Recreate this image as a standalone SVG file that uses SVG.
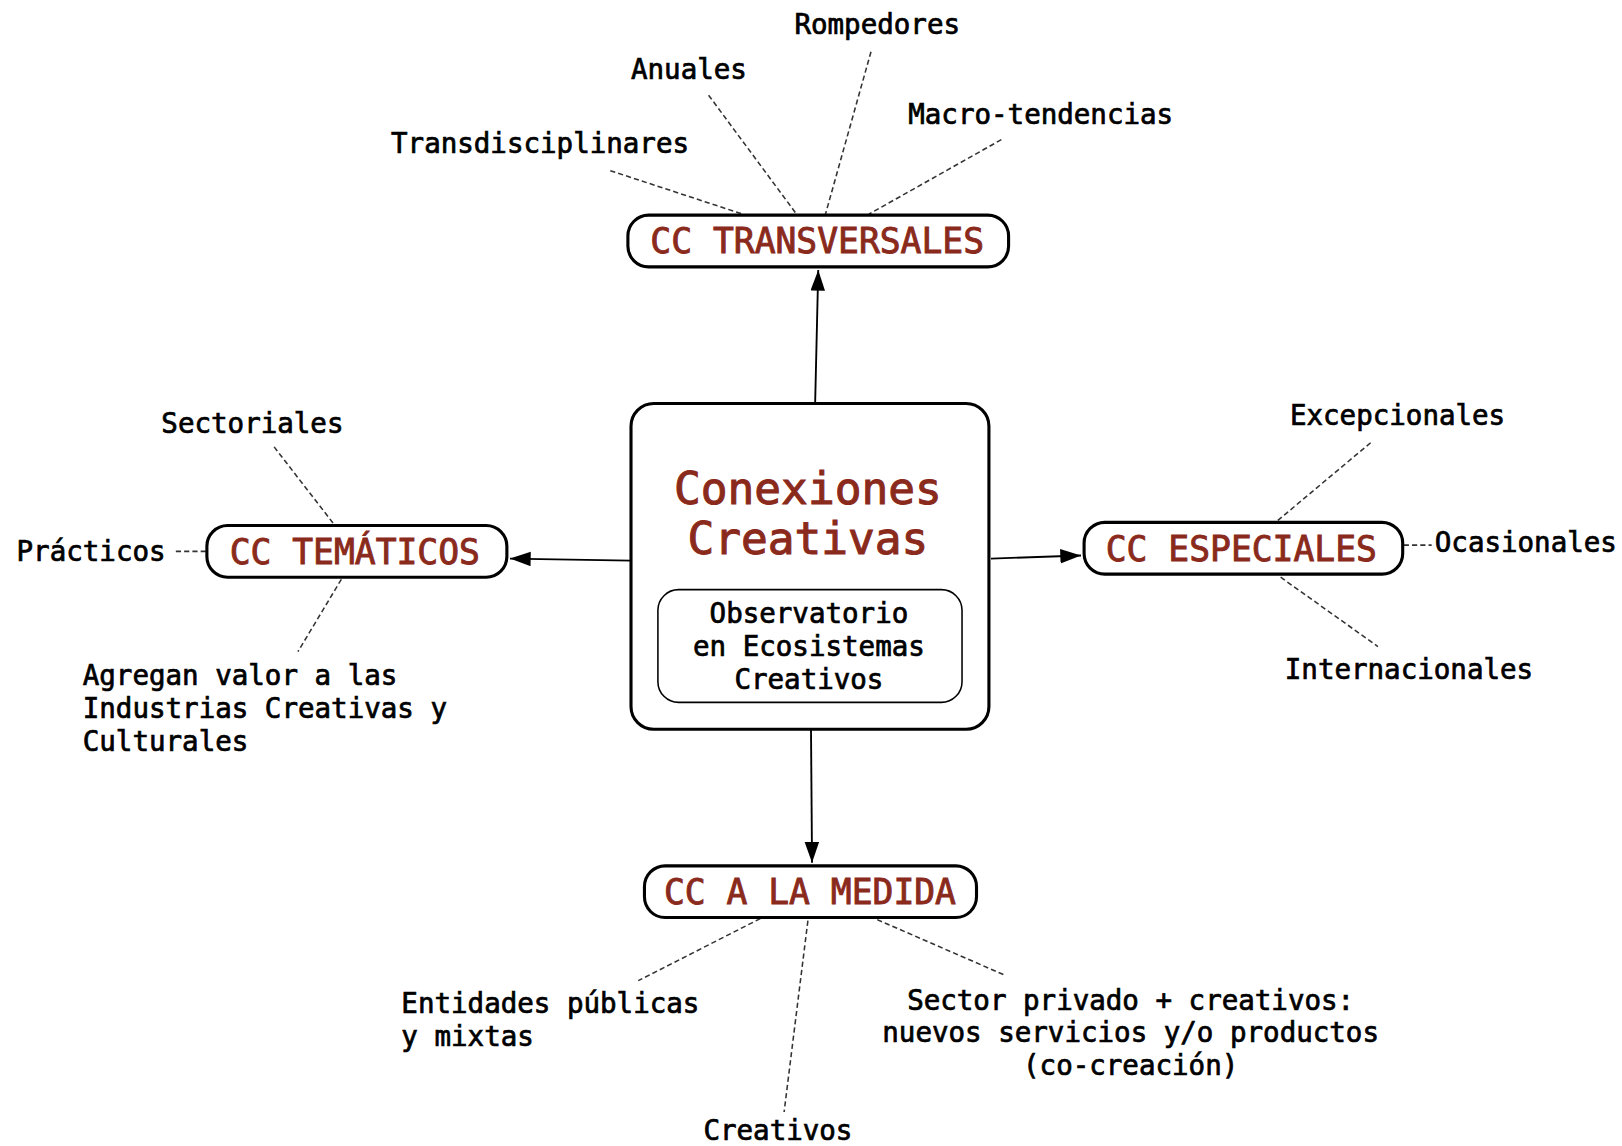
<svg xmlns="http://www.w3.org/2000/svg" width="1622" height="1146" viewBox="0 0 1622 1146">
<style>
.box{fill:#fff;stroke:#000;stroke-width:3}
.inner{fill:#fff;stroke:#000;stroke-width:1.5}
.title{font-family:"DejaVu Sans Mono","Liberation Mono",monospace;font-size:33.5px;fill:#8a2a1c;stroke:#8a2a1c;stroke-width:0.9;text-anchor:middle}
.big{font-family:"DejaVu Sans Mono","Liberation Mono",monospace;font-size:43px;fill:#8a2a1c;stroke:#8a2a1c;stroke-width:1;text-anchor:middle}
.lbl{font-family:"DejaVu Sans Mono","Liberation Mono",monospace;font-size:26.6px;fill:#000;stroke:#000;stroke-width:0.7}
.mid{text-anchor:middle}
.dash{stroke:#333;stroke-width:1.5;stroke-dasharray:5 3;fill:none}
.arr{stroke:#000;stroke-width:1.8;fill:none;marker-end:url(#ah)}
</style>
<defs>
<marker id="ah" markerUnits="userSpaceOnUse" markerWidth="22" markerHeight="16" refX="20" refY="7" orient="auto">
<path d="M0,0 L20,7 L0,14 z" fill="#000"/>
</marker>
</defs>
<rect width="1622" height="1146" fill="#fff"/>
<g transform="scale(1.03444)">
<g id="connectors">
<line class="arr" x1="788" y1="390" x2="791" y2="261"/>
<line class="arr" x1="610" y1="542" x2="493" y2="540"/>
<line class="arr" x1="958" y1="540" x2="1045" y2="537"/>
<line class="arr" x1="784" y1="705" x2="785" y2="834"/>
<line class="dash" x1="590" y1="165" x2="718" y2="207"/>
<line class="dash" x1="685" y1="92" x2="770" y2="207"/>
<line class="dash" x1="842" y1="50" x2="798" y2="207"/>
<line class="dash" x1="968" y1="135" x2="840" y2="207"/>
<line class="dash" x1="265" y1="432" x2="323" y2="507"/>
<line class="dash" x1="170" y1="533" x2="200" y2="533"/>
<line class="dash" x1="330" y1="560" x2="288" y2="630"/>
<line class="dash" x1="1325" y1="428" x2="1233" y2="505"/>
<line class="dash" x1="1357" y1="527" x2="1384" y2="527"/>
<line class="dash" x1="1238" y1="558" x2="1332" y2="625"/>
<line class="dash" x1="735" y1="888" x2="617" y2="948"/>
<line class="dash" x1="781" y1="890" x2="758" y2="1075"/>
<line class="dash" x1="848" y1="889" x2="972" y2="943"/>
</g>
<g id="center">
<rect class="box" x="610" y="390" width="346" height="315" rx="22"/>
<text class="big" x="781" y="487">Conexiones</text>
<text class="big" x="781" y="536">Creativas</text>
<rect class="inner" x="636" y="570" width="294" height="109" rx="20"/>
<text class="lbl mid" x="782" y="602">Observatorio</text>
<text class="lbl mid" x="782" y="634">en Ecosistemas</text>
<text class="lbl mid" x="782" y="666">Creativos</text>
</g>
<g id="transversales">
<rect class="box" x="607" y="208" width="368" height="50" rx="20"/>
<text class="title" x="790" y="245">CC TRANSVERSALES</text>
</g>
<g id="tematicos">
<rect class="box" x="200" y="508" width="290" height="50" rx="20"/>
<text class="title" x="343" y="545">CC TEMÁTICOS</text>
</g>
<g id="especiales">
<rect class="box" x="1048" y="505" width="308" height="50" rx="20"/>
<text class="title" x="1200" y="542">CC ESPECIALES</text>
</g>
<g id="medida">
<rect class="box" x="623" y="837" width="321" height="50" rx="20"/>
<text class="title" x="783" y="874">CC A LA MEDIDA</text>
</g>
<g id="l-rompedores"><text class="lbl" x="768" y="33">Rompedores</text></g>
<g id="l-anuales"><text class="lbl" x="610" y="76">Anuales</text></g>
<g id="l-transdisciplinares"><text class="lbl" x="378" y="148">Transdisciplinares</text></g>
<g id="l-macro"><text class="lbl" x="878" y="120">Macro-tendencias</text></g>
<g id="l-sectoriales"><text class="lbl" x="156" y="419">Sectoriales</text></g>
<g id="l-practicos"><text class="lbl" x="16" y="542">Prácticos</text></g>
<g id="l-agregan"><text class="lbl" x="80" y="662">Agregan valor a las</text><text class="lbl" x="80" y="694">Industrias Creativas y</text><text class="lbl" x="80" y="726">Culturales</text></g>
<g id="l-excepcionales"><text class="lbl" x="1247" y="411">Excepcionales</text></g>
<g id="l-ocasionales"><text class="lbl" x="1387" y="534">Ocasionales</text></g>
<g id="l-internacionales"><text class="lbl" x="1242" y="656">Internacionales</text></g>
<g id="l-entidades"><text class="lbl" x="388" y="979">Entidades públicas</text><text class="lbl" x="388" y="1011">y mixtas</text></g>
<g id="l-creativos"><text class="lbl" x="680" y="1102">Creativos</text></g>
<g id="l-sector"><text class="lbl mid" x="1093" y="976">Sector privado + creativos:</text><text class="lbl mid" x="1093" y="1007">nuevos servicios y/o productos</text><text class="lbl mid" x="1093" y="1039">(co-creación)</text></g>
</g>
</svg>
